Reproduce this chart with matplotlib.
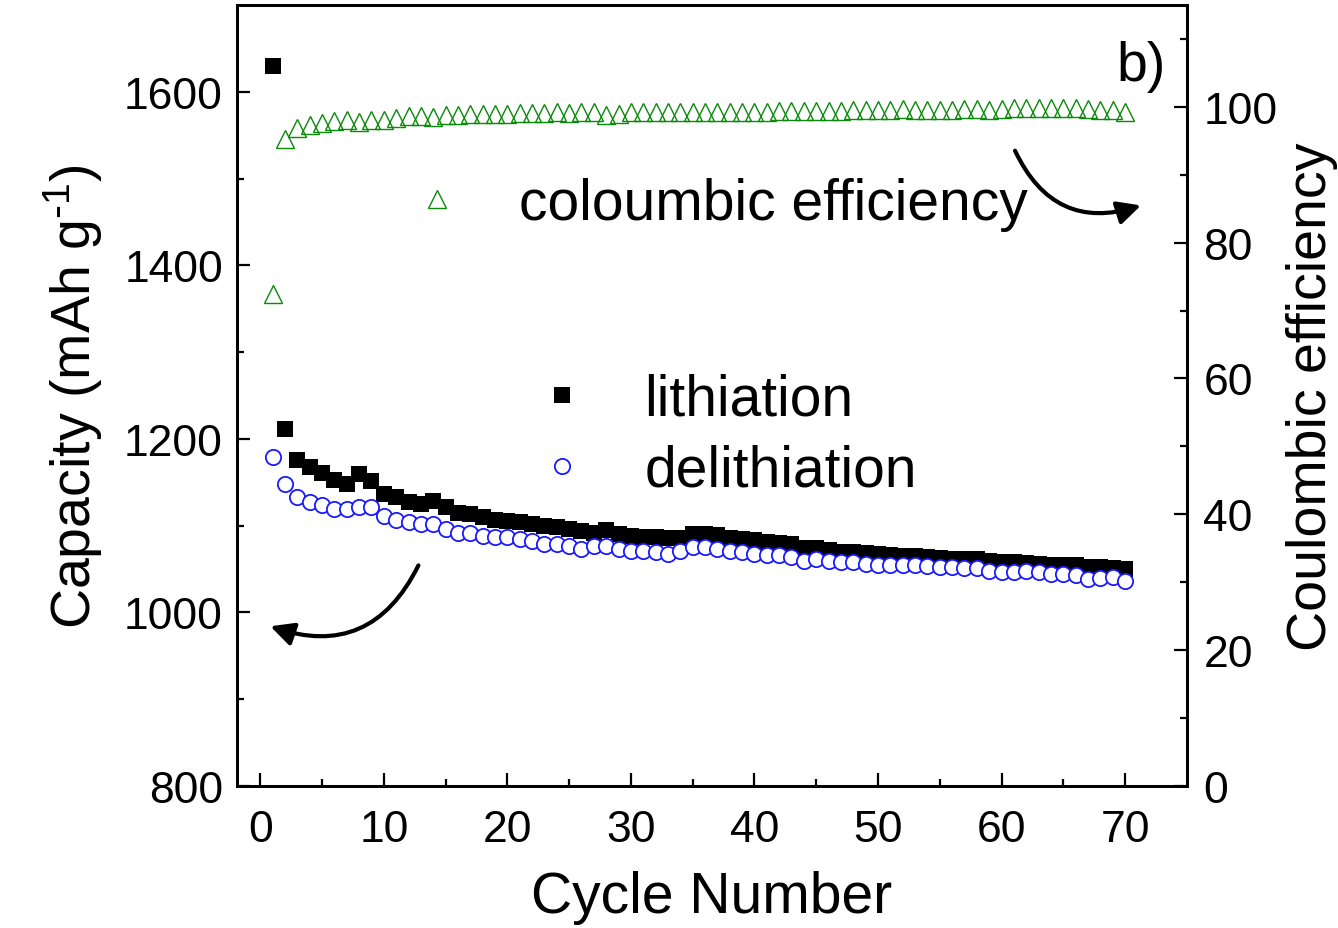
import matplotlib
matplotlib.use("Agg")
from matplotlib import pyplot as plt
import numpy as np

plt.rcParams['font.family'] = ['Liberation Sans', 'DejaVu Sans']
plt.rcParams['mathtext.default'] = 'regular'

cycles = np.arange(1, 71)

# lithiation capacity (mAh/g)
lithiation = [1630, 1211, 1176, 1167, 1161, 1153, 1148, 1159, 1151, 1136,
              1133, 1127, 1125, 1128, 1121, 1115, 1113, 1110, 1107, 1105,
              1104, 1102, 1099, 1098, 1096, 1094, 1092, 1095, 1090, 1088,
              1087, 1087, 1086, 1086, 1090, 1090, 1089, 1086, 1084, 1083,
              1081, 1080, 1079, 1074, 1074, 1072, 1070, 1069, 1068, 1067,
              1066, 1065, 1065, 1064, 1063, 1062, 1061, 1061, 1059, 1058,
              1058, 1057, 1056, 1055, 1054, 1054, 1052, 1052, 1051, 1050]

delithiation = [1179, 1148, 1133, 1127, 1124, 1119, 1119, 1122, 1121, 1111,
                1107, 1104, 1102, 1102, 1096, 1092, 1092, 1088, 1087, 1087,
                1084, 1082, 1079, 1079, 1076, 1073, 1076, 1076, 1073, 1071,
                1071, 1069, 1067, 1071, 1075, 1075, 1073, 1071, 1069, 1067,
                1066, 1066, 1064, 1059, 1061, 1059, 1058, 1058, 1056, 1055,
                1054, 1054, 1054, 1053, 1052, 1052, 1051, 1051, 1048, 1047,
                1047, 1048, 1046, 1044, 1044, 1043, 1039, 1040, 1041, 1036]

# coulombic efficiency (%)
efficiency = [72.5, 95.3, 96.9, 97.3, 97.6, 97.9, 98.1, 97.8, 98.1, 98.1,
              98.4, 98.6, 98.7, 98.5, 98.8, 98.8, 98.9, 99.0, 99.0, 99.0,
              99.1, 99.1, 99.1, 99.2, 99.1, 99.2, 99.3, 98.8, 99.0, 99.2,
              99.2, 99.3, 99.2, 99.2, 99.3, 99.2, 99.3, 99.3, 99.3, 99.3,
              99.3, 99.4, 99.4, 99.4, 99.4, 99.4, 99.4, 99.5, 99.5, 99.5,
              99.6, 99.7, 99.6, 99.6, 99.6, 99.6, 99.7, 99.7, 99.6, 99.7,
              99.8, 99.9, 99.8, 99.8, 99.8, 99.8, 99.7, 99.6, 99.5, 99.2]

fig = plt.figure(figsize=(13.38, 9.29), dpi=100)
ax = fig.add_axes([0.177, 0.153, 0.71, 0.8405])
ax2 = ax.twinx()

l1, = ax.plot(cycles, lithiation, 's', color='black', ms=11, mew=0, zorder=2)
l2, = ax.plot(cycles, delithiation, 'o', mfc='white', mec='#1a1aff', ms=11, mew=1.3, zorder=3)
l3, = ax2.plot(cycles, efficiency, '^', mfc='none', mec='#0a8a0a', ms=13, mew=1.0)

ax.set_xlim(-1.9, 75)
ax.set_ylim(800, 1700)
ax2.set_ylim(0, 115)

ax.set_xticks(np.arange(0, 71, 10))
ax.set_xticks(np.arange(5, 75, 10), minor=True)
ax.set_yticks(np.arange(800, 1601, 200))
ax.set_yticks(np.arange(900, 1700, 200), minor=True)
ax2.set_yticks(np.arange(0, 101, 20))
ax2.set_yticks(np.arange(10, 115, 20), minor=True)

for a in (ax, ax2):
    a.tick_params(which='major', direction='in', length=9.5, width=1.6, labelsize=32, pad=10)
    a.tick_params(which='minor', direction='in', length=5, width=1.6)
    for s in a.spines.values():
        s.set_linewidth(2)
ax.tick_params(axis='x', which='both', top=False, pad=17)
ax.tick_params(axis='y', which='both', right=False)
ax2.tick_params(axis='y', which='both', left=False, pad=12)

ax.set_xlabel('Cycle Number', fontsize=41, labelpad=14)
ax.set_ylabel('Capacity (mAh g$^{\\text{-}1}$)', fontsize=40, labelpad=14)
ax2.set_ylabel('Coulombic efficiency', fontsize=40, labelpad=6)

leg1 = ax2.legend([l1, l2], ['lithiation', 'delithiation'], loc='center left',
                  bbox_to_anchor=(0.3126, 0.449), frameon=False, fontsize=41,
                  handlelength=1, handletextpad=0.94, borderpad=0, borderaxespad=0,
                  labelspacing=0.3, numpoints=1)
ax2.add_artist(leg1)
ax2.legend([l3], ['coloumbic efficiency'], loc='center left',
           bbox_to_anchor=(0.181, 0.745), frameon=False, fontsize=41,
           handlelength=1, handletextpad=0.94, borderpad=0, borderaxespad=0,
           numpoints=1)

ax.text(0.978, 0.955, 'b)', transform=ax.transAxes, ha='right', va='top', fontsize=40)

ax.annotate('', xy=(0.6, 985), xytext=(12.9, 1057),
            arrowprops=dict(arrowstyle='-|>', connectionstyle='arc3,rad=-0.45',
                            color='black', lw=3, mutation_scale=35))
ax.annotate('', xy=(71.5, 1470), xytext=(61.0, 1535),
            arrowprops=dict(arrowstyle='-|>', connectionstyle='arc3,rad=0.45',
                            color='black', lw=3, mutation_scale=35))

fig.savefig('out.png', dpi=100)
